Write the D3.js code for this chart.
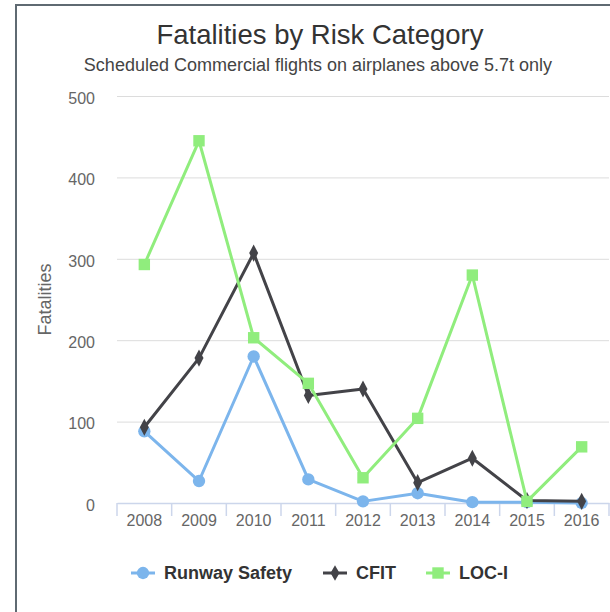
<!DOCTYPE html>
<html>
<head>
<meta charset="utf-8">
<script src="https://cdn.jsdelivr.net/npm/d3@7"></script>
<style>
  body { margin: 0; background: #fff; }
  svg { display: block; font-family: "Liberation Sans", Arial, sans-serif; }
  .grid line { stroke: #dcdcdc; stroke-width: 1; }
  .grid path { display: none; }
  .y-axis text, .x-axis text { fill: #666; font-size: 16px; }
  .legend-text { font-size: 18px; font-weight: bold; fill: #333; }
</style>
</head>
<body>
<div id="chart"></div>
<script>
////////////////////////////////////////////////////////////
///////////////////////// Data /////////////////////////////
////////////////////////////////////////////////////////////

var years = ["2008","2009","2010","2011","2012","2013","2014","2015","2016"];
var runwaySafety = [88, 27, 180, 29, 2, 12, 1, 1, 0];
var cfit = [93, 178, 307, 132, 140, 25, 55, 3, 2];
var locI = [293, 445, 203, 147, 31, 104, 280, 2, 69];
var yTicks = [0, 100, 200, 300, 400, 500];

var series = [
	{name: "Runway Safety", values: runwaySafety, color: "#7cb5ec", symbol: d3.symbolCircle, size: 120},
	{name: "CFIT", values: cfit, color: "#434348", symbol: d3.symbolDiamond, size: 70},
	{name: "LOC-I", values: locI, color: "#90ed7d", symbol: d3.symbolSquare, size: 130}
];

////////////////////////////////////////////////////////////
/////////////////////// Set-up /////////////////////////////
////////////////////////////////////////////////////////////

var width = 610, height = 612;
var margin = {top: 96, right: 1, bottom: 109, left: 117};

var svg = d3.select("#chart").append("svg")
	.attr("width", width)
	.attr("height", height);

//Outer frame (only the left and top edge show)
svg.append("rect")
	.attr("x", 16).attr("y", 5)
	.attr("width", 640).attr("height", 640)
	.style("fill", "none")
	.style("stroke", "#5f6a72")
	.style("stroke-width", 2);

var x = d3.scaleBand()
	.domain(years)
	.range([margin.left, width - margin.right]);

var y = d3.scaleLinear()
	.domain([0, 500])
	.range([height - margin.bottom, margin.top]);

//Titles
svg.append("text")
	.attr("x", 320).attr("y", 44)
	.attr("text-anchor", "middle")
	.style("font-size", "27.5px")
	.style("fill", "#333")
	.text("Fatalities by Risk Category");

svg.append("text")
	.attr("x", 318).attr("y", 71)
	.attr("text-anchor", "middle")
	.style("font-size", "18px")
	.style("fill", "#444")
	.text("Scheduled Commercial flights on airplanes above 5.7t only");

//Gridlines
svg.append("g")
	.attr("class", "grid")
	.attr("transform", "translate(" + margin.left + ",0)")
	.call(d3.axisLeft(y).tickValues(yTicks).tickSize(-(width - margin.left - margin.right)).tickFormat(""));

//Y axis labels
var yAxis = svg.append("g")
	.attr("class", "y-axis")
	.attr("transform", "translate(" + (margin.left - 22) + ",0)")
	.call(d3.axisLeft(y).tickValues(yTicks).tickSize(0).tickPadding(0));
yAxis.select(".domain").remove();
yAxis.selectAll("text").attr("dy", "0.45em");

svg.append("text")
	.attr("transform", "translate(51," + y(250) + ")rotate(-90)")
	.attr("text-anchor", "middle")
	.style("font-size", "18px")
	.style("fill", "#666")
	.text("Fatalities");

//X axis
var xAxis = svg.append("g")
	.attr("class", "x-axis")
	.attr("transform", "translate(0," + y(0) + ")")
	.call(d3.axisBottom(x).tickSize(0).tickPadding(14));
xAxis.select(".domain").style("stroke", "#ccd6eb").style("stroke-width", 1.5);
xAxis.selectAll("text").attr("dy", "0.55em");

//Tick marks between categories
xAxis.selectAll(".cat-tick")
	.data(d3.range(years.length + 1))
	.enter().append("line")
	.attr("class", "cat-tick")
	.attr("x1", function(d) { return x.range()[0] + d * x.step(); })
	.attr("x2", function(d) { return x.range()[0] + d * x.step(); })
	.attr("y1", 0)
	.attr("y2", 13)
	.style("stroke", "#ccd6eb")
	.style("stroke-width", 1.5);

////////////////////////////////////////////////////////////
/////////////////////// Lines //////////////////////////////
////////////////////////////////////////////////////////////

var line = d3.line()
	.x(function(d, i) { return x(years[i]) + x.bandwidth() / 2; })
	.y(function(d) { return y(d); });

var seriesG = svg.selectAll(".series")
	.data(series)
	.enter().append("g")
	.attr("class", "series");

seriesG.append("path")
	.attr("d", function(d) { return line(d.values); })
	.style("fill", "none")
	.style("stroke", function(d) { return d.color; })
	.style("stroke-width", 3)
	.style("stroke-linejoin", "round");

seriesG.each(function(s) {
	d3.select(this).selectAll(".marker")
		.data(s.values)
		.enter().append("path")
		.attr("class", "marker")
		.attr("transform", function(d, i) {
			return "translate(" + (x(years[i]) + x.bandwidth() / 2) + "," + y(d) + ")" + (s.symbol === d3.symbolDiamond ? "scale(1,1.1)" : "");
		})
		.attr("d", d3.symbol().type(s.symbol).size(s.size))
		.style("fill", s.color);
});

////////////////////////////////////////////////////////////
/////////////////////// Legend /////////////////////////////
////////////////////////////////////////////////////////////

var legendX = [131, 323, 426];
var legend = svg.selectAll(".legend-item")
	.data(series)
	.enter().append("g")
	.attr("class", "legend-item")
	.attr("transform", function(d, i) { return "translate(" + legendX[i] + ",573)"; });

legend.append("line")
	.attr("x2", 24)
	.style("stroke", function(d) { return d.color; })
	.style("stroke-width", 3);

legend.append("path")
	.attr("transform", "translate(12,0)")
	.attr("d", function(d) { return d3.symbol().type(d.symbol).size(d.size)(); })
	.style("fill", function(d) { return d.color; });

legend.append("text")
	.attr("class", "legend-text")
	.attr("x", 33)
	.attr("dy", "0.35em")
	.text(function(d) { return d.name; });
</script>
</body>
</html>
